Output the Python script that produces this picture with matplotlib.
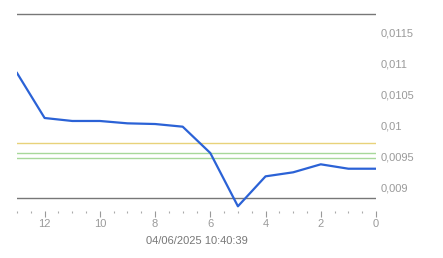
import matplotlib
matplotlib.use("Agg")
import matplotlib.pyplot as plt
from matplotlib.ticker import MultipleLocator, FuncFormatter

x_vals = [13, 12, 11, 10, 9, 8, 7, 6, 5, 4, 3, 2, 1, 0]
y_vals = [0.010839, 0.010113, 0.010065, 0.010065, 0.010027, 0.010016, 0.009973,
          0.009548, 0.008689, 0.009172, 0.009237, 0.009366, 0.009295, 0.009295]
gray_levels = [0.01179, 0.008823]
yellow_levels = [0.00971]
green_levels = [0.009548, 0.009468]
y_ticks = [0.009, 0.0095, 0.01, 0.0105, 0.011, 0.0115]
x_ticks = [12, 10, 8, 6, 4, 2, 0]
date_label = "04/06/2025 10:40:39"

plt.rcParams['font.family'] = ['Liberation Sans', 'DejaVu Sans']

W, H = 443, 258
fig = plt.figure(figsize=(W / 100, H / 100), dpi=100)
left, right, top, bottom = 17, 376, 10, 211
ax = fig.add_axes([left / W, 1 - bottom / H, (right - left) / W, (bottom - top) / H])

for v in gray_levels:
    ax.axhline(v, color='#777777', lw=1.0, zorder=2)
for v in yellow_levels:
    ax.axhline(v, color='#e8d27a', lw=1.0, zorder=2)
for v in green_levels:
    ax.axhline(v, color='#a8d89a', lw=1.0, zorder=2)

ax.plot(x_vals, y_vals, color='#2b62d6', lw=1.6, zorder=3)

ax.set_xlim(13, 0)
ax.set_ylim(0.008613, 0.011855)

for s in ax.spines.values():
    s.set_visible(False)

ax.yaxis.tick_right()
ax.set_yticks(y_ticks)
ax.yaxis.set_major_formatter(FuncFormatter(lambda v, p: ('%g' % v).replace('.', ',')))
ax.tick_params(axis='y', length=0, pad=3, labelsize=8, labelcolor='#9a9a9a')

ax.set_xticks(x_ticks)
ax.xaxis.set_minor_locator(MultipleLocator(0.5))
ax.tick_params(axis='x', which='major', length=4, width=0.8, color='#999999',
               labelsize=8, labelcolor='#9a9a9a', pad=2)
ax.tick_params(axis='x', which='minor', length=1.5, width=0.8, color='#aaaaaa')
ax.set_xlabel(date_label, fontsize=8, color='#777777', labelpad=5)

fig.savefig("out.png", dpi=100)
